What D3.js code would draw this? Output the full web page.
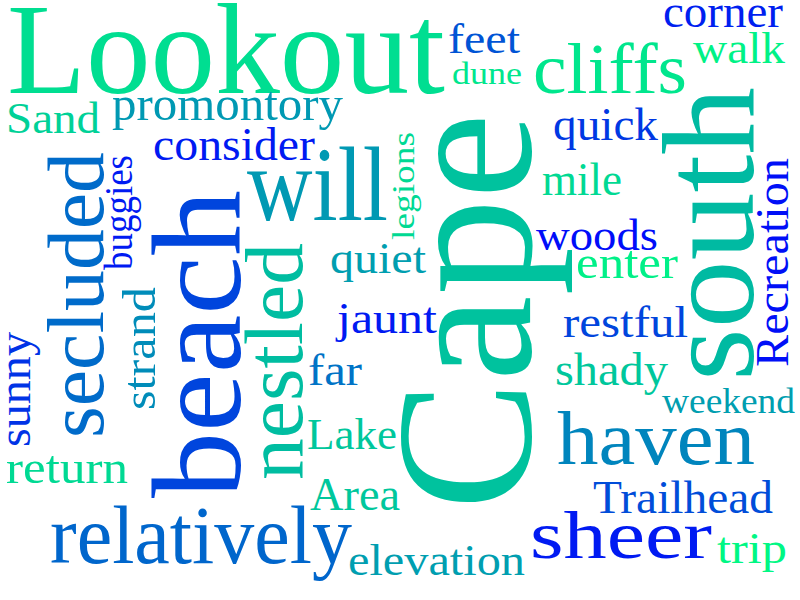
<!DOCTYPE html>
<html>
<head>
<meta charset="utf-8">
<script src="https://cdn.jsdelivr.net/npm/d3@7"></script>
<style>
  html, body { margin: 0; padding: 0; background: #fff; }
  svg { display: block; }
</style>
</head>
<body>
<div class="chart"></div>
<script>
// words of the cloud, horizontal ones first, then the ones read bottom-to-top
var words = ['Lookout', 'feet', 'dune', 'cliffs', 'corner', 'walk', 'Sand', 'promontory',
    'consider', 'quick', 'will', 'mile', 'quiet', 'woods', 'enter', 'jaunt', 'restful',
    'far', 'shady', 'weekend', 'haven', 'Lake', 'return', 'Area', 'Trailhead',
    'relatively', 'elevation', 'sheer', 'trip',
    'Cape', 'south', 'Recreation', 'nestled', 'legions', 'buggies', 'strand', 'sunny',
    'secluded', 'beach'];

// relative word weight (drives font size)
var weights = [65, 21.5, 16, 36, 23.5, 22.5, 22.5, 24,
    23, 23.5, 53, 23.5, 22, 22, 23, 22.5, 22.5,
    22.5, 23, 18, 38, 22.5, 23, 23, 23.5,
    41, 22.5, 34, 22.5,
    98, 66, 23, 41.5, 15.5, 20, 23.5, 23.5,
    40, 63.5];

// position along the "winter" colour map (0 = blue, 1 = green)
var tones = [0.87, 0.33, 0.9, 0.9, 0.12, 0.95, 0.82, 0.6,
    0.1, 0.22, 0.6, 0.85, 0.62, 0.05, 0.94, 0.1, 0.27,
    0.45, 0.78, 0.62, 0.52, 0.78, 0.85, 0.78, 0.3,
    0.4, 0.62, 0.1, 0.97,
    0.76, 0.73, 0.06, 0.74, 0.85, 0.1, 0.55, 0.2,
    0.42, 0.27];

// 1 = rotated a quarter turn
var vertical = [0, 0, 0, 0, 0, 0, 0, 0,
    0, 0, 0, 0, 0, 0, 0, 0, 0,
    0, 0, 0, 0, 0, 0, 0, 0,
    0, 0, 0, 0,
    1, 1, 1, 1, 1, 1, 1, 1,
    1, 1];

// cloud layout, in layout units: start of the word on its baseline
var layoutX = [7, 448, 452, 533, 663, 693, 6, 112,
    153, 553, 247, 542, 330, 536, 576, 337, 563,
    308, 555, 662, 557, 307, 6, 310, 593,
    50, 348, 530, 717,
    530, 753, 788, 302, 414, 132, 155, 30,
    103, 240];
var layoutY = [93, 53, 84, 93, 27, 63, 133, 120,
    160, 140, 220, 195, 273, 250, 278, 333, 337,
    385, 385, 413, 464, 449, 483, 510, 513,
    563, 575, 558, 563,
    510, 381, 367, 480, 240, 270, 410, 447,
    438, 498];
var spans = [438, 72, 70, 154, 120, 92, 94, 231,
    162, 105, 141, 80, 96, 122, 102, 100, 125,
    54, 113, 133, 198, 90, 122, 90, 180,
    302, 177, 182, 70,
    397, 294, 209, 237, 108, 115, 123, 115,
    286, 308];

var width = 800, height = 600;

var x = d3.scaleLinear().domain([0, 800]).range([0, width]);
var y = d3.scaleLinear().domain([0, 600]).range([0, height]);
var fontSize = d3.scaleLinear().domain([0, 100]).range([0, 200]);
var winter = d3.interpolateRgb('#0000ff', '#00ff80');

var svg = d3.select('.chart')
    .append('svg')
    .attr('width', width)
    .attr('height', height);

svg.append('rect')
    .attr('width', width)
    .attr('height', height)
    .attr('fill', '#fff');

svg.append('g')
    .attr('font-family', '"Liberation Serif", "Times New Roman", serif')
    .selectAll('text')
    .data(d3.range(words.length))
    .join('text')
    .attr('transform', function (i) {
        var t = 'translate(' + x(layoutX[i]) + ',' + y(layoutY[i]) + ')';
        return vertical[i] ? t + ' rotate(-90)' : t;
    })
    .attr('font-size', function (i) { return fontSize(weights[i]); })
    .attr('textLength', function (i) { return vertical[i] ? y(spans[i]) : x(spans[i]); })
    .attr('lengthAdjust', 'spacingAndGlyphs')
    .attr('fill', function (i) { return winter(tones[i]); })
    .text(function (i) { return words[i]; });
</script>
</body>
</html>
